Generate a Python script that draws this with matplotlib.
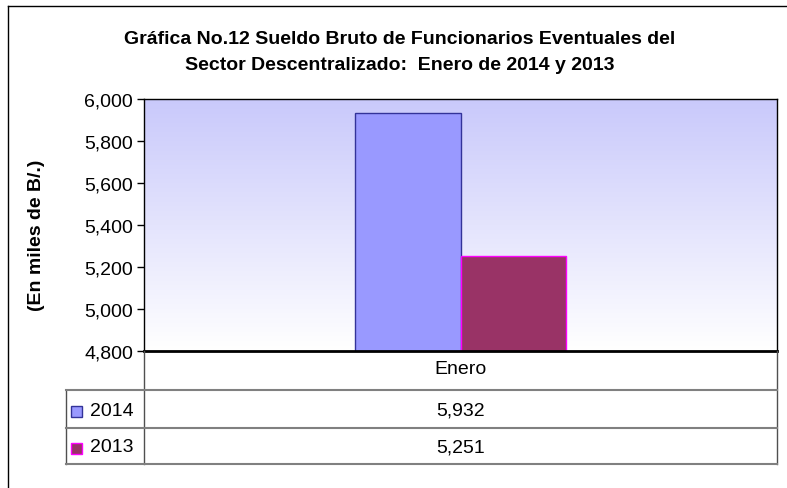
import numpy as np
import matplotlib
matplotlib.use("Agg")
import matplotlib.pyplot as plt
from matplotlib.patches import Rectangle
from matplotlib.colors import LinearSegmentedColormap

plt.rcParams['font.family'] = ['Liberation Sans', 'DejaVu Sans']

# data
categories = ['Enero']
series_names = ['2014', '2013']
values_2014 = [5932]
values_2013 = [5251]
yticks = [4800, 5000, 5200, 5400, 5600, 5800, 6000]

W, H = 787, 489
fig = plt.figure(figsize=(W / 100, H / 100), dpi=100)

def fx(px):
    return px / W

def fy(py):
    return 1 - py / H

# plot area in pixels
left, right, top, bottom = 144, 777, 100, 352
ax = fig.add_axes([fx(left), fy(bottom), fx(right - left), fy(top) - fy(bottom)])

# gradient background
cmap = LinearSegmentedColormap.from_list('bg', ['#ffffff', '#c9c9fb'])
grad = np.linspace(0, 1, 256).reshape(-1, 1)
ax.imshow(grad, aspect='auto', cmap=cmap, origin='lower',
          extent=[-0.5, 0.5, 4800, 6000], zorder=0)

x = np.arange(len(categories))
bw = 0.166
ax.bar(x - bw / 2, values_2014, bw, color='#9999ff',
       edgecolor='#333399', linewidth=1, zorder=2)
ax.bar(x + bw / 2, values_2013, bw, color='#993366',
       edgecolor='#ff00ff', linewidth=1, zorder=2)

ax.set_xlim(-0.5, 0.5)
ax.set_ylim(4800, 6000)
ax.set_yticks(yticks)
ax.set_yticklabels([f'{v:,}' for v in yticks], fontsize=14)
ax.tick_params(axis='y', direction='out', length=5, width=1, pad=3)
ax.set_xticks([])
for s in ['top', 'right', 'left']:
    ax.spines[s].set_linewidth(1)
ax.spines['bottom'].set_linewidth(2)

fig.text(fx(37), fy(235), '(En miles de B/.)', rotation=90, ha='center', va='center',
         fontsize=14, fontweight='bold')

fig.text(fx(400), fy(39), 'Gráfica No.12 Sueldo Bruto de Funcionarios Eventuales del',
         ha='center', va='center', fontsize=14, fontweight='bold')
fig.text(fx(400), fy(66), 'Sector Descentralizado:  Enero de 2014 y 2013',
         ha='center', va='center', fontsize=14, fontweight='bold')

# outer border (left and top visible)
fig.add_artist(plt.Line2D([fx(8), fx(8)], [fy(7), 0], color='black', lw=1))
fig.add_artist(plt.Line2D([fx(8), 1], [fy(7), fy(7)], color='black', lw=1))

# data table
grey = '#808080'
tab_left = 66
rows_y = [352, 391, 429, 465]
fig.add_artist(plt.Line2D([fx(left), fx(left)], [fy(352), fy(465)], color='#505050', lw=1))
fig.add_artist(plt.Line2D([fx(right), fx(right)], [fy(352), fy(465)], color='#505050', lw=1))
fig.add_artist(plt.Line2D([fx(tab_left), fx(tab_left)], [fy(391), fy(465)], color='#505050', lw=1))
for yy in rows_y[1:]:
    fig.add_artist(plt.Line2D([fx(tab_left), fx(right)], [fy(yy), fy(yy)], color=grey, lw=1.5))

cx = fx((left + right) / 2)
fig.text(cx, fy(370), categories[0], ha='center', va='center', fontsize=14)

row_vals = [values_2014, values_2013]
faces = ['#9999ff', '#993366']
edges = ['#333399', '#ff00ff']
for i, name in enumerate(series_names):
    ymid = (rows_y[i + 1] + rows_y[i + 2]) / 2
    fig.add_artist(Rectangle((fx(71), fy(ymid + 8)), fx(11), fy(ymid - 3) - fy(ymid + 8),
                             facecolor=faces[i], edgecolor=edges[i], lw=1))
    fig.text(fx(90), fy(ymid + 1), name, ha='left', va='center', fontsize=14)
    fig.text(cx, fy(ymid + 1), f'{row_vals[i][0]:,}', ha='center', va='center', fontsize=14)

fig.savefig('out.png', dpi=100)
